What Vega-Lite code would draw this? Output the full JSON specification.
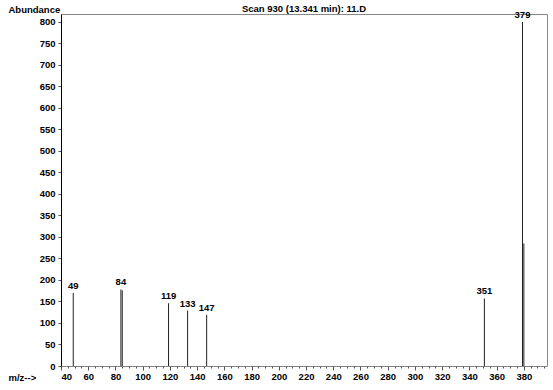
{
  "$schema": "https://vega.github.io/schema/vega-lite/v6.json",
  "width": 486,
  "height": 352,
  "autosize": {"type": "none"},
  "padding": {"left": 61, "top": 14, "right": 6, "bottom": 24},
  "background": "white",
  "config": {
    "view": {"stroke": "#888", "strokeWidth": 1},
    "font": "Liberation Sans",
    "text": {"font": "Liberation Sans"}
  },
  "title": {
    "text": "Scan 930 (13.341 min): 11.D",
    "font": "Liberation Sans",
    "fontSize": 9.5,
    "fontWeight": "bold",
    "anchor": "middle",
    "offset": -19,
    "baseline": "bottom",
    "color": "#000"
  },
  "data": {
    "values": [
      {"mz": 49, "ab": 170, "label": "49"},
      {"mz": 84, "ab": 178, "label": "84"},
      {"mz": 85, "ab": 176, "label": ""},
      {"mz": 119, "ab": 146, "label": "119"},
      {"mz": 133, "ab": 129, "label": "133"},
      {"mz": 147, "ab": 119, "label": "147"},
      {"mz": 351, "ab": 157, "label": "351"},
      {"mz": 379, "ab": 800, "label": "379"},
      {"mz": 380, "ab": 285, "label": ""}
    ]
  },
  "encoding": {
    "x": {
      "field": "mz",
      "type": "quantitative",
      "scale": {"domain": [40, 397], "nice": false, "zero": false},
      "axis": {
        "title": "m/z-->",
        "titleFont": "Liberation Sans",
        "titleFontSize": 9.5,
        "titleFontWeight": "bold",
        "titleAlign": "left",
        "titleBaseline": "middle",
        "titleAnchor": "start",
        "titleX": -53,
        "titleY": 11,
        "titleColor": "#000",
        "values": [40,45,50,55,60,65,70,75,80,85,90,95,100,105,110,115,120,125,130,135,140,145,150,155,160,165,170,175,180,185,190,195,200,205,210,215,220,225,230,235,240,245,250,255,260,265,270,275,280,285,290,295,300,305,310,315,320,325,330,335,340,345,350,355,360,365,370,375,380,385,390,395],
        "labelExpr": "datum.value % 20 === 0 ? datum.label : ''",
        "labelOverlap": false,
        "labelFont": "Liberation Sans",
        "labelFontSize": 9.5,
        "labelFontWeight": "bold",
        "labelColor": "#000",
        "labelPadding": 1,
        "tickSize": {"condition": {"test": "datum.value % 20 === 0", "value": 4}, "value": 2},
        "tickColor": "#555",
        "domainColor": "#777",
        "domainDash": [1, 2],
        "grid": false
      }
    },
    "y": {
      "field": "ab",
      "type": "quantitative",
      "scale": {"domain": [0, 818.6], "nice": false},
      "axis": {
        "title": "Abundance",
        "titleAngle": 0,
        "titleFont": "Liberation Sans",
        "titleFontSize": 9.5,
        "titleFontWeight": "bold",
        "titleAlign": "left",
        "titleBaseline": "middle",
        "titleX": -53,
        "titleY": -5,
        "titleColor": "#000",
        "values": [0,50,100,150,200,250,300,350,400,450,500,550,600,650,700,750,800],
        "labelOverlap": false,
        "labelFont": "Liberation Sans",
        "labelFontSize": 9.5,
        "labelFontWeight": "bold",
        "labelColor": "#000",
        "labelPadding": 3,
        "tickSize": 3,
        "tickColor": "#555",
        "domainColor": "#000",
        "grid": false
      }
    }
  },
  "layer": [
    {
      "mark": {"type": "rule", "color": "#222", "strokeWidth": 1},
      "encoding": {
        "y2": {"datum": 0}
      }
    },
    {
      "mark": {"type": "text", "baseline": "bottom", "align": "center", "dy": -2, "fontSize": 9.5, "fontWeight": "bold", "color": "#000"},
      "encoding": {
        "text": {"field": "label"}
      }
    }
  ]
}
